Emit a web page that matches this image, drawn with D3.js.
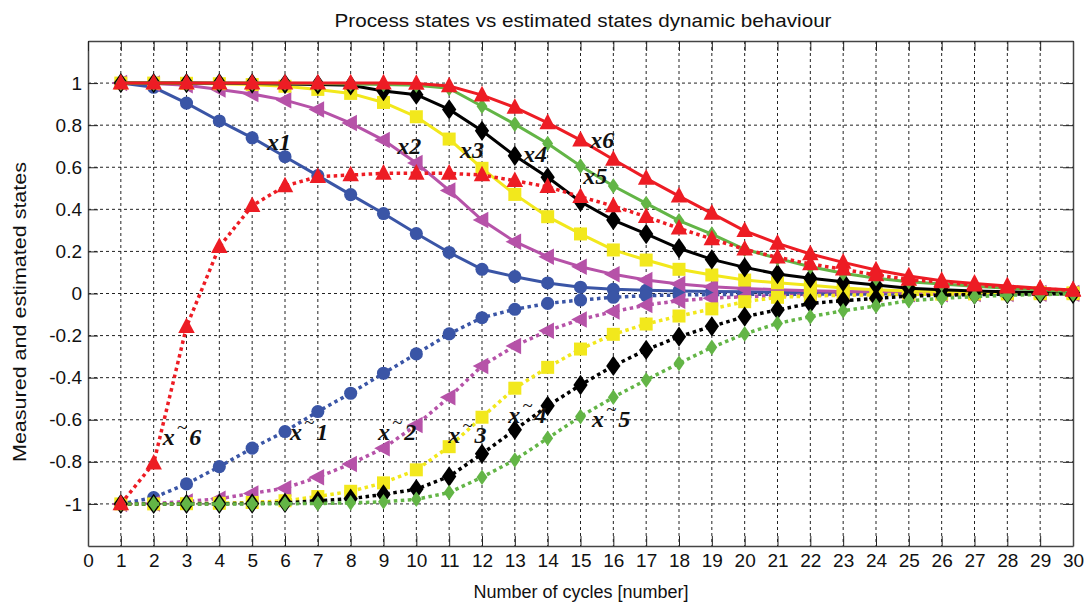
<!DOCTYPE html>
<html>
<head>
<meta charset="utf-8">
<script src="https://cdn.jsdelivr.net/npm/d3@7"></script>
<style>
  body { margin: 0; background: #fff; }
  text { font-family: "Liberation Sans", Arial, sans-serif; }
  .lbl { font-family: "Liberation Serif", "Times New Roman", serif; font-style: italic; font-weight: bold; }
</style>
</head>
<body>
<div class="chart"></div>
<script>
  // cycles on the x axis
  var cycles = [1,2,3,4,5,6,7,8,9,10,11,12,13,14,15,16,17,18,19,20,21,22,23,24,25,26,27,28,29,30];

  // process states (solid)
  var x1 = [1, 0.98, 0.905, 0.82, 0.74, 0.65, 0.56, 0.47, 0.38, 0.285, 0.195, 0.115, 0.08, 0.05, 0.03, 0.02, 0.015, 0.012, 0.01, 0.008, 0.006, 0.005, 0.004, 0.003, 0.003, 0.002, 0.002, 0.001, 0.001, 0.001];
  var x2 = [1, 0.998, 0.99, 0.97, 0.948, 0.919, 0.875, 0.81, 0.729, 0.62, 0.49, 0.349, 0.246, 0.175, 0.127, 0.091, 0.064, 0.045, 0.032, 0.024, 0.018, 0.013, 0.01, 0.008, 0.006, 0.005, 0.004, 0.003, 0.002, 0.002];
  var x3 = [1, 1, 0.999, 0.997, 0.993, 0.985, 0.97, 0.951, 0.908, 0.84, 0.734, 0.595, 0.471, 0.365, 0.283, 0.207, 0.159, 0.115, 0.088, 0.064, 0.051, 0.039, 0.026, 0.018, 0.012, 0.009, 0.007, 0.005, 0.004, 0.003];
  var x4 = [1, 1, 1, 0.999, 0.998, 0.996, 0.993, 0.99, 0.962, 0.945, 0.875, 0.773, 0.655, 0.552, 0.436, 0.349, 0.283, 0.215, 0.162, 0.124, 0.093, 0.072, 0.056, 0.04, 0.025, 0.018, 0.012, 0.008, 0.005, 0.004];
  var x5 = [1, 1, 1, 1, 1, 0.999, 0.998, 0.996, 0.993, 0.99, 0.975, 0.89, 0.805, 0.713, 0.606, 0.511, 0.428, 0.346, 0.282, 0.21, 0.167, 0.127, 0.096, 0.072, 0.056, 0.045, 0.035, 0.025, 0.018, 0.01];
  var x6 = [1, 1, 1, 1, 1, 1, 1, 1, 1, 0.998, 0.986, 0.943, 0.884, 0.811, 0.729, 0.637, 0.547, 0.463, 0.381, 0.298, 0.238, 0.188, 0.148, 0.112, 0.083, 0.061, 0.048, 0.036, 0.025, 0.017];

  // estimated states (dotted)
  var xe1 = [-1, -0.97, -0.905, -0.823, -0.735, -0.656, -0.561, -0.474, -0.379, -0.287, -0.192, -0.115, -0.075, -0.047, -0.031, -0.018, -0.01, -0.007, -0.005, -0.004, -0.003, -0.003, -0.002, -0.002, -0.001, -0.001, -0.001, -0.001, 0, 0];
  var xe2 = [-1, -0.998, -0.989, -0.975, -0.95, -0.925, -0.873, -0.81, -0.735, -0.625, -0.493, -0.344, -0.249, -0.177, -0.123, -0.086, -0.055, -0.034, -0.022, -0.015, -0.01, -0.008, -0.006, -0.004, -0.003, -0.003, -0.002, -0.002, -0.001, -0.001];
  var xe3 = [-1, -1, -0.999, -0.997, -0.993, -0.985, -0.965, -0.94, -0.9, -0.838, -0.728, -0.588, -0.45, -0.351, -0.264, -0.194, -0.145, -0.107, -0.073, -0.039, -0.018, -0.012, -0.008, -0.006, -0.004, -0.003, -0.002, -0.002, -0.001, -0.001];
  var xe4 = [-1, -1, -1, -0.999, -0.998, -0.995, -0.985, -0.975, -0.955, -0.93, -0.87, -0.762, -0.648, -0.534, -0.435, -0.344, -0.268, -0.205, -0.156, -0.11, -0.078, -0.047, -0.034, -0.023, -0.012, -0.008, -0.005, -0.003, -0.002, -0.001];
  var xe5 = [-1, -1, -1, -1, -1, -0.999, -0.998, -0.995, -0.99, -0.978, -0.946, -0.873, -0.791, -0.688, -0.585, -0.493, -0.411, -0.332, -0.256, -0.192, -0.142, -0.11, -0.082, -0.059, -0.034, -0.023, -0.015, -0.008, -0.005, -0.002];
  var xe6 = [-1, -0.807, -0.158, 0.222, 0.417, 0.511, 0.555, 0.563, 0.571, 0.571, 0.571, 0.563, 0.536, 0.507, 0.46, 0.416, 0.365, 0.31, 0.259, 0.21, 0.172, 0.14, 0.115, 0.088, 0.067, 0.055, 0.04, 0.03, 0.022, 0.015];

  var xTicks = [0,1,2,3,4,5,6,7,8,9,10,11,12,13,14,15,16,17,18,19,20,21,22,23,24,25,26,27,28,29,30];
  var yTicks = [-1, -0.8, -0.6, -0.4, -0.2, 0, 0.2, 0.4, 0.6, 0.8, 1];

  var width = 1087;
  var height = 605;
  // plot box edges (don't use "top", it clashes with window.top)
  var plotLeft = 88, plotRight = 1073, plotTop = 41, plotBottom = 546;

  var svg = d3.select('.chart')
    .append('svg')
    .attr('width', width)
    .attr('height', height);

  var xScale = d3.scaleLinear().domain([0, 30]).range([plotLeft, plotRight]);
  var yScale = d3.scaleLinear().domain([-1.2, 1.2]).range([plotBottom, plotTop]);

  // grid
  var grid = svg.append('g')
    .attr('stroke', '#222')
    .attr('stroke-width', 1)
    .attr('stroke-dasharray', '3,3');

  grid.selectAll('.vg')
    .data(xTicks.slice(1, -1))
    .enter().append('line')
    .attr('x1', function(d){ return xScale(d) })
    .attr('x2', function(d){ return xScale(d) })
    .attr('y1', plotTop)
    .attr('y2', plotBottom);

  grid.selectAll('.hg')
    .data(yTicks)
    .enter().append('line')
    .attr('y1', function(d){ return yScale(d) })
    .attr('y2', function(d){ return yScale(d) })
    .attr('x1', plotLeft)
    .attr('x2', plotRight);

  // axes, ticks pointing inward like matlab
  var xAxis = d3.axisBottom(xScale).tickValues(xTicks).tickSizeInner(-10).tickSizeOuter(0).tickPadding(8);
  var yAxis = d3.axisLeft(yScale).tickValues(yTicks).tickSizeInner(-10).tickSizeOuter(0).tickPadding(6)
    .tickFormat(function(d){ return String(+d.toFixed(1)) });

  svg.append('g')
    .attr('transform', 'translate(0,' + plotBottom + ')')
    .call(xAxis);
  svg.append('g')
    .attr('transform', 'translate(' + plotLeft + ',0)')
    .call(yAxis);

  svg.append('g')
    .attr('transform', 'translate(0,' + plotTop + ')')
    .call(d3.axisTop(xScale).tickValues(xTicks).tickSizeInner(-10).tickSizeOuter(0).tickFormat(''));
  svg.append('g')
    .attr('transform', 'translate(' + plotRight + ',0)')
    .call(d3.axisRight(yScale).tickValues(yTicks).tickSizeInner(-10).tickSizeOuter(0).tickFormat(''));

  svg.selectAll('.domain').attr('stroke', '#444').attr('stroke-width', 1.5);
  svg.selectAll('.tick line').attr('stroke', '#222');
  svg.selectAll('.tick text').attr('font-size', 19).attr('fill', '#111')
    .attr('font-family', '"Liberation Sans", Arial, sans-serif');

  // marker shapes
  function markerPath(shape, s) {
    if (shape === 'circle') return d3.symbol().type(d3.symbolCircle).size(s * s * 0.8)();
    if (shape === 'up') return 'M0,' + (-s * 0.62) + 'L' + (s * 0.55) + ',' + (s * 0.42) + 'L' + (-s * 0.55) + ',' + (s * 0.42) + 'Z';
    if (shape === 'left') return 'M' + (-s * 0.62) + ',0L' + (s * 0.42) + ',' + (-s * 0.55) + 'L' + (s * 0.42) + ',' + (s * 0.55) + 'Z';
    if (shape === 'square') return 'M' + (-s / 2) + ',' + (-s / 2) + 'h' + s + 'v' + s + 'h' + (-s) + 'Z';
    if (shape === 'diamond') return 'M0,' + (-s * 0.6) + 'L' + (s * 0.42) + ',0L0,' + (s * 0.6) + 'L' + (-s * 0.42) + ',0Z';
  }

  var series = [
    { values: x1, color: '#3a55a6', shape: 'circle', size: 13, dotted: false },
    { values: xe1, color: '#3a55a6', shape: 'circle', size: 13, dotted: true },
    { values: x2, color: '#b652a8', shape: 'left', size: 15, dotted: false },
    { values: xe2, color: '#b652a8', shape: 'left', size: 15, dotted: true },
    { values: x3, color: '#f2e81c', shape: 'square', size: 13, dotted: false },
    { values: xe3, color: '#f2e81c', shape: 'square', size: 13, dotted: true },
    { values: x4, color: '#000000', shape: 'diamond', size: 17, dotted: false },
    { values: xe4, color: '#000000', shape: 'diamond', size: 17, dotted: true },
    { values: x5, color: '#63b546', shape: 'diamond', size: 13, dotted: false },
    { values: xe5, color: '#63b546', shape: 'diamond', size: 13, dotted: true },
    { values: x6, color: '#ed1c24', shape: 'up', size: 15, dotted: false },
    { values: xe6, color: '#ed1c24', shape: 'up', size: 15, dotted: true }
  ];

  var line = d3.line()
    .x(function(d){ return xScale(d.x) })
    .y(function(d){ return yScale(d.y) });

  series.forEach(function(s) {
    var pts = s.values.map(function(v, i){ return { x: cycles[i], y: v } });
    var g = svg.append('g');
    g.append('path')
      .datum(pts)
      .attr('d', line)
      .attr('fill', 'none')
      .attr('stroke', s.color)
      .attr('stroke-width', s.dotted ? 3.5 : 3)
      .attr('stroke-dasharray', s.dotted ? '3.5,3.5' : null);
    g.selectAll('.m')
      .data(pts)
      .enter().append('path')
      .attr('d', markerPath(s.shape, s.size))
      .attr('transform', function(d){ return 'translate(' + xScale(d.x) + ',' + yScale(d.y) + ')' })
      .attr('fill', s.color);
  });

  // curve labels
  var labels = [
    { x: 5.45, y: 0.68, name: '1', est: false },
    { x: 9.42, y: 0.665, name: '2', est: false },
    { x: 11.33, y: 0.643, name: '3', est: false },
    { x: 13.25, y: 0.625, name: '4', est: false },
    { x: 15.08, y: 0.52, name: '5', est: false },
    { x: 15.3, y: 0.69, name: '6', est: false },
    { x: 6.15, y: -0.695, name: '1', est: true },
    { x: 8.83, y: -0.695, name: '2', est: true },
    { x: 10.97, y: -0.71, name: '3', est: true },
    { x: 12.8, y: -0.615, name: '4', est: true },
    { x: 15.35, y: -0.634, name: '5', est: true },
    { x: 2.28, y: -0.72, name: '6', est: true }
  ];

  labels.forEach(function(l) {
    var t = svg.append('text')
      .attr('class', 'lbl')
      .attr('x', xScale(l.x))
      .attr('y', yScale(l.y))
      .attr('font-size', 24)
      .attr('fill', '#111');
    t.append('tspan').text('x');
    if (l.est) {
      // raised tilde between x and the index
      t.append('tspan').attr('dx', 2).attr('dy', -11).attr('font-size', 19).attr('font-weight', 'normal').text('~');
      t.append('tspan').attr('dx', 2).attr('dy', 11).text(l.name);
    } else {
      t.append('tspan').text(l.name);
    }
  });

  // titles
  svg.append('text')
    .attr('x', 583)
    .attr('y', 27)
    .attr('text-anchor', 'middle')
    .attr('font-size', 19)
    .attr('textLength', 497)
    .attr('lengthAdjust', 'spacingAndGlyphs')
    .attr('fill', '#111')
    .text('Process states vs estimated states dynamic behaviour');

  svg.append('text')
    .attr('x', 581)
    .attr('y', 598)
    .attr('text-anchor', 'middle')
    .attr('font-size', 18)
    .attr('fill', '#111')
    .text('Number of cycles [number]');

  svg.append('text')
    .attr('transform', 'translate(26,' + 312 + ') rotate(-90)')
    .attr('text-anchor', 'middle')
    .attr('font-size', 19)
    .attr('textLength', 300)
    .attr('lengthAdjust', 'spacingAndGlyphs')
    .attr('fill', '#111')
    .text('Measured and estimated states');
</script>
</body>
</html>
